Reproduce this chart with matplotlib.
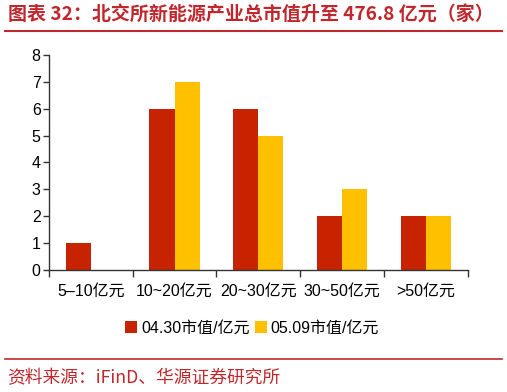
import matplotlib.pyplot as plt
import numpy as np

categories = ['5~10亿元', '10~20亿元', '20~30亿元', '30~50亿元', '>50亿元']
tick_labels = ['5–10亿元', '10~20亿元', '20~30亿元', '30~50亿元', '>50亿元']
v_0430 = [1, 6, 6, 2, 2]
v_0509 = [0, 7, 5, 3, 2]

RED = '#C82300'
YEL = '#FFC000'
TITLE_RED = '#C0282D'
fonts = ['Liberation Sans', 'Noto Sans CJK SC']

fig = plt.figure(figsize=(5.07, 3.92), dpi=100)
ax = fig.add_axes([0.0966, 0.311, 0.826, 0.549])

x = np.arange(len(categories))
w = 0.3
ax.bar(x - w / 2, v_0430, w, color=RED, label='04.30市值/亿元')
ax.bar(x + w / 2, v_0509, w, color=YEL, label='05.09市值/亿元')

ax.set_xlim(-0.5, len(categories) - 0.5)
ax.set_ylim(0, 8)
ax.set_yticks(range(0, 9))
ax.set_xticks(x)
ax.set_xticklabels(tick_labels, family=fonts, fontsize=11.5)
ax.tick_params(axis='x', length=0, pad=10)
ax.set_xticks(np.arange(-0.5, len(categories)), minor=True)
ax.tick_params(axis='x', which='minor', length=5, width=1, color='#333333')
ax.tick_params(axis='y', length=4, width=1, color='#333333', labelsize=11.5, pad=2)
for lbl in ax.get_yticklabels():
    lbl.set_family(fonts)
for s in ['top', 'right']:
    ax.spines[s].set_visible(False)
for s in ['left', 'bottom']:
    ax.spines[s].set_color('#333333')
    ax.spines[s].set_linewidth(1)

leg = ax.legend(loc='center', bbox_to_anchor=(0.485, -0.27), ncol=2, frameon=False,
                prop={'family': fonts, 'size': 11.5}, handlelength=0.75, handleheight=0.75,
                handletextpad=0.25, columnspacing=0.3)

fig.text(0.016, 0.962, '图表 32：北交所新能源产业总市值升至 476.8 亿元（家）',
         family=['Noto Sans CJK SC'], fontweight='bold', fontsize=13.7,
         color=TITLE_RED, va='center', ha='left')
fig.add_artist(plt.Line2D([0.01, 0.99], [0.922, 0.922], color=TITLE_RED, lw=1.5))
fig.add_artist(plt.Line2D([0.01, 0.99], [0.085, 0.085], color=TITLE_RED, lw=1.2))
fig.text(0.014, 0.035, '资料来源：iFinD、华源证券研究所', family=['Noto Sans CJK SC'],
         fontweight='light', fontsize=12.8, color=TITLE_RED, va='center', ha='left')

fig.savefig('out.png', dpi=100)
